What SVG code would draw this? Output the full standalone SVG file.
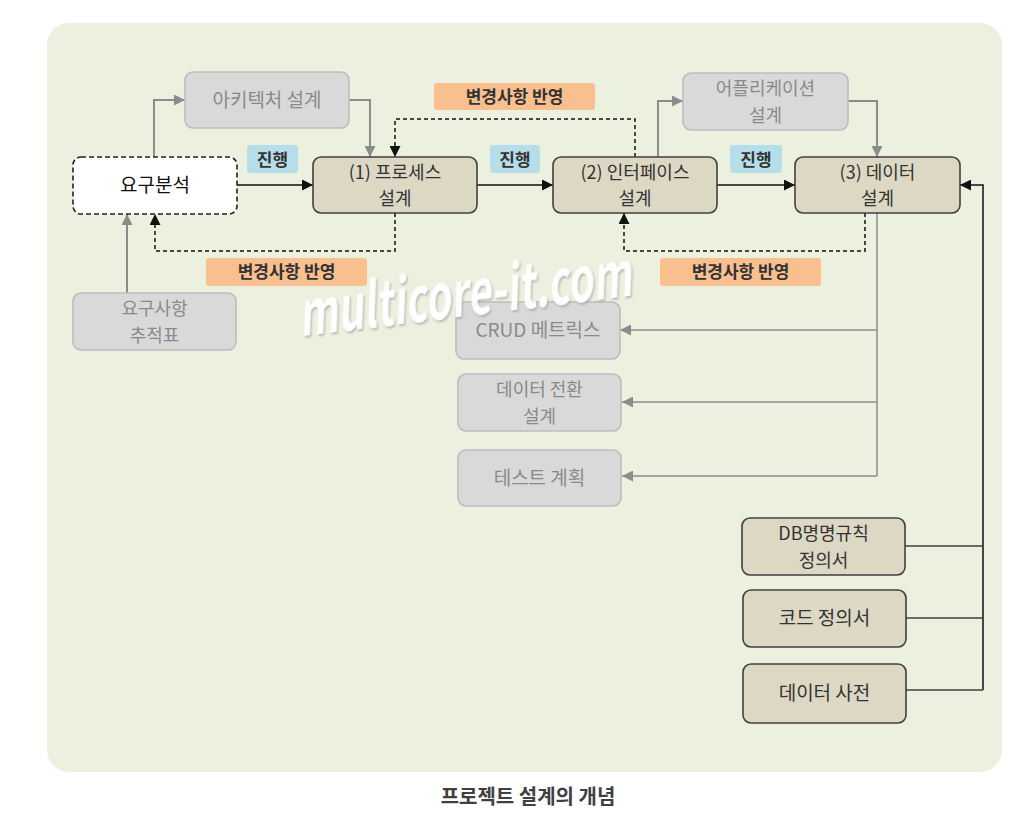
<svg xmlns="http://www.w3.org/2000/svg" width="1025" height="823" viewBox="0 0 1025 823">
<style>
text{font-family:"Noto Sans CJK KR","Noto Sans",sans-serif;text-anchor:middle;}
.t{font-size:18px;fill:#333333;}
.tg{font-size:18px;fill:#8A8A8A;}
.tb{font-size:19px;fill:#111111;}
.t1{font-size:19px;fill:#333333;}
.tg1{font-size:19px;fill:#8A8A8A;}
.lab{font-size:17px;fill:#333333;font-weight:bold;}
.nt{fill:#DDD8C3;stroke:#404040;stroke-width:1.6;}
.ng{fill:#D9D9D9;stroke:#BDBDBD;stroke-width:1.6;}
.blue{fill:#B6DEEA;}
.org{fill:#F9BF8F;}
.cb{fill:none;stroke:#111111;stroke-width:1.5;}
.cd{fill:none;stroke:#111111;stroke-width:1.5;stroke-dasharray:4 3;}
.cg{fill:none;stroke:#8C8C8C;stroke-width:2;}
.cg1{fill:none;stroke:#8C8C8C;stroke-width:1.5;}
.cr{fill:none;stroke:#404040;stroke-width:1.5;}
</style>
<defs>
<marker id="ab" viewBox="0 0 10 10" refX="10" refY="5" markerWidth="11" markerHeight="11" markerUnits="userSpaceOnUse" orient="auto"><path d="M0,0 L10,5 L0,10 z" fill="#111111"/></marker>
<marker id="ag" viewBox="0 0 10 10" refX="10" refY="5" markerWidth="11" markerHeight="11" markerUnits="userSpaceOnUse" orient="auto"><path d="M0,0 L10,5 L0,10 z" fill="#8C8C8C"/></marker>
<filter id="sh" x="-10%" y="-30%" width="120%" height="160%"><feDropShadow dx="1" dy="2" stdDeviation="1.2" flood-color="#9a9a9a" flood-opacity="0.7"/></filter>
</defs>
<rect width="1025" height="823" fill="#FFFFFF"/>
<rect x="47" y="23" width="955" height="749" rx="22" fill="#ECF0DF"/>

<g id="connectors">
<line class="cb" x1="237" y1="185" x2="313" y2="185" marker-end="url(#ab)"/>
<line class="cb" x1="477" y1="185" x2="553" y2="185" marker-end="url(#ab)"/>
<line class="cb" x1="717" y1="185" x2="795" y2="185" marker-end="url(#ab)"/>
<polyline class="cg" points="154,157 154,100 185,100" marker-end="url(#ag)"/>
<polyline class="cg" points="349,100 370,100 370,157" marker-end="url(#ag)"/>
<polyline class="cd" points="635,157 635,119 395,119 395,157" marker-end="url(#ab)"/>
<polyline class="cd" points="395,213 395,251 155,251 155,214" marker-end="url(#ab)"/>
<line class="cg" x1="127" y1="293" x2="127" y2="214" marker-end="url(#ag)"/>
<polyline class="cg" points="658,157 658,101 683,101" marker-end="url(#ag)"/>
<polyline class="cg" points="848,101 877,101 877,157" marker-end="url(#ag)"/>
<polyline class="cd" points="865,213 865,251 624,251 624,213" marker-end="url(#ab)"/>
<line class="cg1" x1="877" y1="213" x2="877" y2="476"/>
<line class="cg1" x1="877" y1="330" x2="620" y2="330" marker-end="url(#ag)"/>
<line class="cg1" x1="877" y1="402" x2="622" y2="402" marker-end="url(#ag)"/>
<line class="cg1" x1="877" y1="476" x2="622" y2="476" marker-end="url(#ag)"/>
<polyline class="cb" points="983,690 983,185 960,185" marker-end="url(#ab)"/>
<line class="cr" x1="905" y1="546" x2="983" y2="546"/>
<line class="cr" x1="906" y1="618" x2="983" y2="618"/>
<line class="cr" x1="906" y1="690" x2="983" y2="690"/>
</g>

<g id="label-progress-1"><rect class="blue" x="247" y="145" width="51" height="28" rx="3"/><text class="lab" x="272.5" y="165.5">진행</text></g>
<g id="label-progress-2"><rect class="blue" x="490" y="145" width="50" height="28" rx="3"/><text class="lab" x="515" y="165.5">진행</text></g>
<g id="label-progress-3"><rect class="blue" x="730" y="145" width="52" height="28" rx="3"/><text class="lab" x="756" y="165.5">진행</text></g>
<g id="label-change-top"><rect class="org" x="434" y="83" width="161" height="27" rx="3"/><text class="lab" x="514.5" y="102.5">변경사항 반영</text></g>
<g id="label-change-left"><rect class="org" x="206" y="258" width="161" height="28" rx="3"/><text class="lab" x="286.5" y="278">변경사항 반영</text></g>
<g id="label-change-right"><rect class="org" x="660" y="258" width="161" height="28" rx="3"/><text class="lab" x="740.5" y="278">변경사항 반영</text></g>

<g id="node-arch"><rect class="ng" x="185" y="72" width="164" height="56" rx="8"/><text class="tg1" x="267" y="107">아키텍처 설계</text></g>
<g id="node-req"><rect x="73" y="157" width="164" height="57" rx="8" fill="#FFFFFF" stroke="#222222" stroke-width="1.6" stroke-dasharray="5 3"/><text class="tb" x="155" y="192">요구분석</text></g>
<g id="node-process"><rect class="nt" x="313" y="157" width="164" height="56" rx="8"/><text class="t"><tspan x="395" y="178.5">(1) 프로세스</tspan><tspan x="395" y="205">설계</tspan></text></g>
<g id="node-trace"><rect class="ng" x="73" y="293" width="163" height="57" rx="8"/><text class="tg"><tspan x="154.5" y="315">요구사항</tspan><tspan x="154.5" y="341.5">추적표</tspan></text></g>
<g id="node-app"><rect class="ng" x="683" y="73" width="165" height="57" rx="8"/><text class="tg"><tspan x="765.5" y="95">어플리케이션</tspan><tspan x="765.5" y="121.5">설계</tspan></text></g>
<g id="node-interface"><rect class="nt" x="553" y="157" width="164" height="56" rx="8"/><text class="t"><tspan x="635" y="178.5">(2) 인터페이스</tspan><tspan x="635" y="205">설계</tspan></text></g>
<g id="node-data"><rect class="nt" x="795" y="157" width="165" height="56" rx="8"/><text class="t"><tspan x="877.5" y="178.5">(3) 데이터</tspan><tspan x="877.5" y="205">설계</tspan></text></g>
<g id="node-crud"><rect class="ng" x="456" y="302" width="164" height="57" rx="8"/><text class="tg1" x="538" y="337">CRUD 메트릭스</text></g>
<g id="node-convert"><rect class="ng" x="458" y="374" width="163" height="57" rx="8"/><text class="tg"><tspan x="539.5" y="396">데이터 전환</tspan><tspan x="539.5" y="422.5">설계</tspan></text></g>
<g id="node-test"><rect class="ng" x="458" y="450" width="163" height="56" rx="8"/><text class="tg1" x="539.5" y="485">테스트 계획</text></g>
<g id="node-naming"><rect class="nt" x="742" y="518" width="163" height="57" rx="8"/><text class="t"><tspan x="823.5" y="540">DB명명규칙</tspan><tspan x="823.5" y="566.5">정의서</tspan></text></g>
<g id="node-code"><rect class="nt" x="743" y="590" width="163" height="57" rx="8"/><text class="t1" x="824.5" y="625">코드 정의서</text></g>
<g id="node-dict"><rect class="nt" x="743" y="664" width="163" height="59" rx="8"/><text class="t1" x="824.5" y="700">데이터 사전</text></g>

<text x="465" y="316" font-family="'Liberation Sans Narrow','Liberation Sans',sans-serif" font-size="62" font-weight="bold" font-style="italic" fill="#FFFFFF" textLength="335" lengthAdjust="spacingAndGlyphs" transform="rotate(-7 465 300)" filter="url(#sh)" opacity="0.95">multicore-it.com</text>

<text x="528" y="804" font-size="20" font-weight="bold" fill="#404040">프로젝트 설계의 개념</text>
</svg>
